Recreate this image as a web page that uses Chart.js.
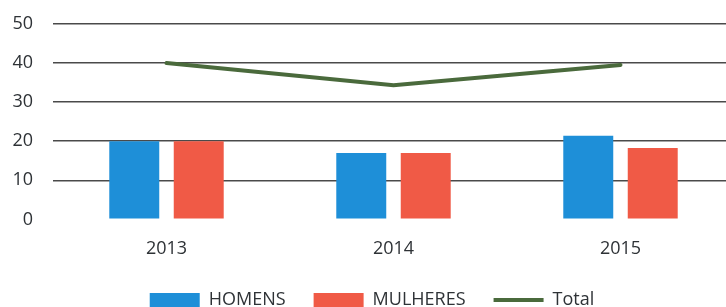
<!DOCTYPE html>
<html>
<head>
<meta charset="utf-8">
<script src="https://cdn.jsdelivr.net/npm/chart.js"></script>
<style>
  html, body { margin: 0; padding: 0; background: #fff; overflow: hidden; }
  #wrap { width: 740px; height: 319px; }
</style>
</head>
<body>
<div id="wrap"><canvas id="myChart"></canvas></div>
<script>
// dados do gráfico
const anos = ['2013', '2014', '2015'];
const homens = [20, 17, 21.4];
const mulheres = [20, 17, 18.3];
const total = [40, 34.3, 39.5];
const yTicks = [0, 10, 20, 30, 40, 50];

const fonte = { family: '"Open Sans", sans-serif', size: 18 };
const corTexto = '#2e3236';

const ctx = document.getElementById('myChart').getContext('2d');
new Chart(ctx, {
    type: 'bar',
    data: {
        labels: anos,
        datasets: [
            {
                label: 'HOMENS',
                data: homens,
                backgroundColor: '#1e8fd8',
                borderWidth: 0,
                pointStyle: 'rect',
                barPercentage: 0.775,
                categoryPercentage: 0.568
            },
            {
                label: 'MULHERES',
                data: mulheres,
                backgroundColor: '#f05a46',
                borderWidth: 0,
                pointStyle: 'rect',
                barPercentage: 0.775,
                categoryPercentage: 0.568
            },
            {
                type: 'line',
                label: 'Total',
                data: total,
                borderColor: '#4a6a3c',
                backgroundColor: '#4a6a3c',
                borderWidth: 4,
                borderCapStyle: 'round',
                pointRadius: 0,
                pointStyle: 'line',
                tension: 0
            }
        ]
    },
    options: {
        responsive: true,
        maintainAspectRatio: false,
        animation: false,
        layout: { padding: { top: 24, right: 6, left: 10, bottom: 0 } },
        plugins: {
            tooltip: { enabled: false },
            legend: {
                position: 'bottom',
                labels: {
                    usePointStyle: true,
                    pointStyleWidth: 50,
                    boxHeight: 14,
                    padding: 28,
                    color: corTexto,
                    font: fonte
                }
            }
        },
        scales: {
            x: {
                grid: { display: false, drawTicks: false },
                border: { display: false },
                ticks: { color: corTexto, font: fonte, padding: 19 },
                afterFit: s => { s.height -= 16; }
            },
            y: {
                min: 0,
                max: 50,
                afterBuildTicks: axis => { axis.ticks = yTicks.map(v => ({ value: v })); },
                afterFit: s => { s.width = 43; s.paddingTop = 0; s.paddingBottom = 0; },
                border: { display: false },
                grid: {
                    drawTicks: false,
                    lineWidth: 1.6,
                    color: c => c.tick && c.tick.value === 0 ? 'rgba(0,0,0,0)' : '#4a4a4a'
                },
                ticks: { color: corTexto, font: fonte, padding: 20 }
            }
        }
    }
});
</script>
</body>
</html>
